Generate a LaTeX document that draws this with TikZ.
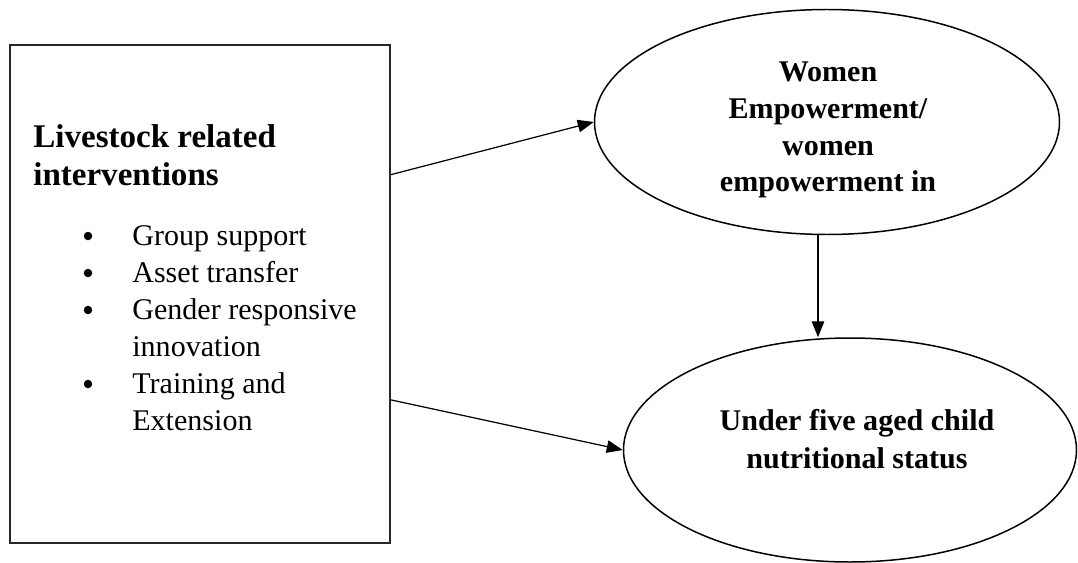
\documentclass[tikz,border=0pt]{standalone}
\usepackage{fontspec}
\setmainfont{Liberation Serif}
\usetikzlibrary{shapes.geometric,arrows.meta}

\begin{document}
\begin{tikzpicture}[
  bubble/.style={draw, ellipse, line width=0.85pt, inner sep=0pt},
  arr/.style={line width=0.7pt, -{Triangle[length=0.32cm,width=0.25cm]}},
  headtxt/.style={font=\fontsize{18.8}{21.6}\selectfont\bfseries, inner sep=0pt, anchor=base west},
  bubtxt/.style={font=\fontsize{17.1}{21}\selectfont\bfseries, inner sep=0pt, anchor=base},
  itemtxt/.style={font=\fontsize{17.1}{21}\selectfont, inner sep=0pt, anchor=base west},
  dotmark/.style={circle, fill, inner sep=0pt, minimum size=0.17cm}]
  \useasboundingbox (0,0) rectangle (21.56,-11.26);
  % interventions box
  \node[draw, draw=black!85, line width=1.2pt, inner sep=0pt, minimum width=7.6cm, minimum height=9.96cm] (box) at (4.0,-5.88) {};
  \node[headtxt] (head1) at (0.66,-2.94) {Livestock related};
  \node[headtxt] (head2) at (0.66,-3.70) {interventions};
  \foreach \t [count=\i] in {Group support, Asset transfer, Gender responsive, innovation, Training and, Extension}
    \node[itemtxt] (item\i) at (2.64,{-4.90-0.74*(\i-1)}) {\t};
  \foreach \i in {1,2,3,5}
    \node[dotmark] (dot\i) at (1.76,{-4.72-0.74*(\i-1)}) {};
  % ellipses
  \node[bubble, minimum width=9.3cm, minimum height=4.5cm] (wem) at (16.54,-2.44) {};
  \foreach \t [count=\i] in {Women, Empowerment/, women, empowerment in}
    \node[bubtxt] (wemtxt\i) at (16.56,{-1.64-0.733*(\i-1)}) {\t};
  \node[bubble, minimum width=9.06cm, minimum height=4.48cm] (nut) at (17.0,-9.0) {};
  \node[bubtxt] (nuttxt1) at (17.14,-8.60) {Under five aged child};
  \node[bubtxt] (nuttxt2) at (17.14,-9.36) {nutritional status};
  % arrows
  \draw[arr] (box.32.5) -- (wem.west);
  \draw[arr] (box.-29.6) -- (nut.west);
  \draw[arr] ([xshift=-0.18cm]wem.south) -- ([xshift=-0.18cm]wem.south |- nut.north);
\end{tikzpicture}
\end{document}
